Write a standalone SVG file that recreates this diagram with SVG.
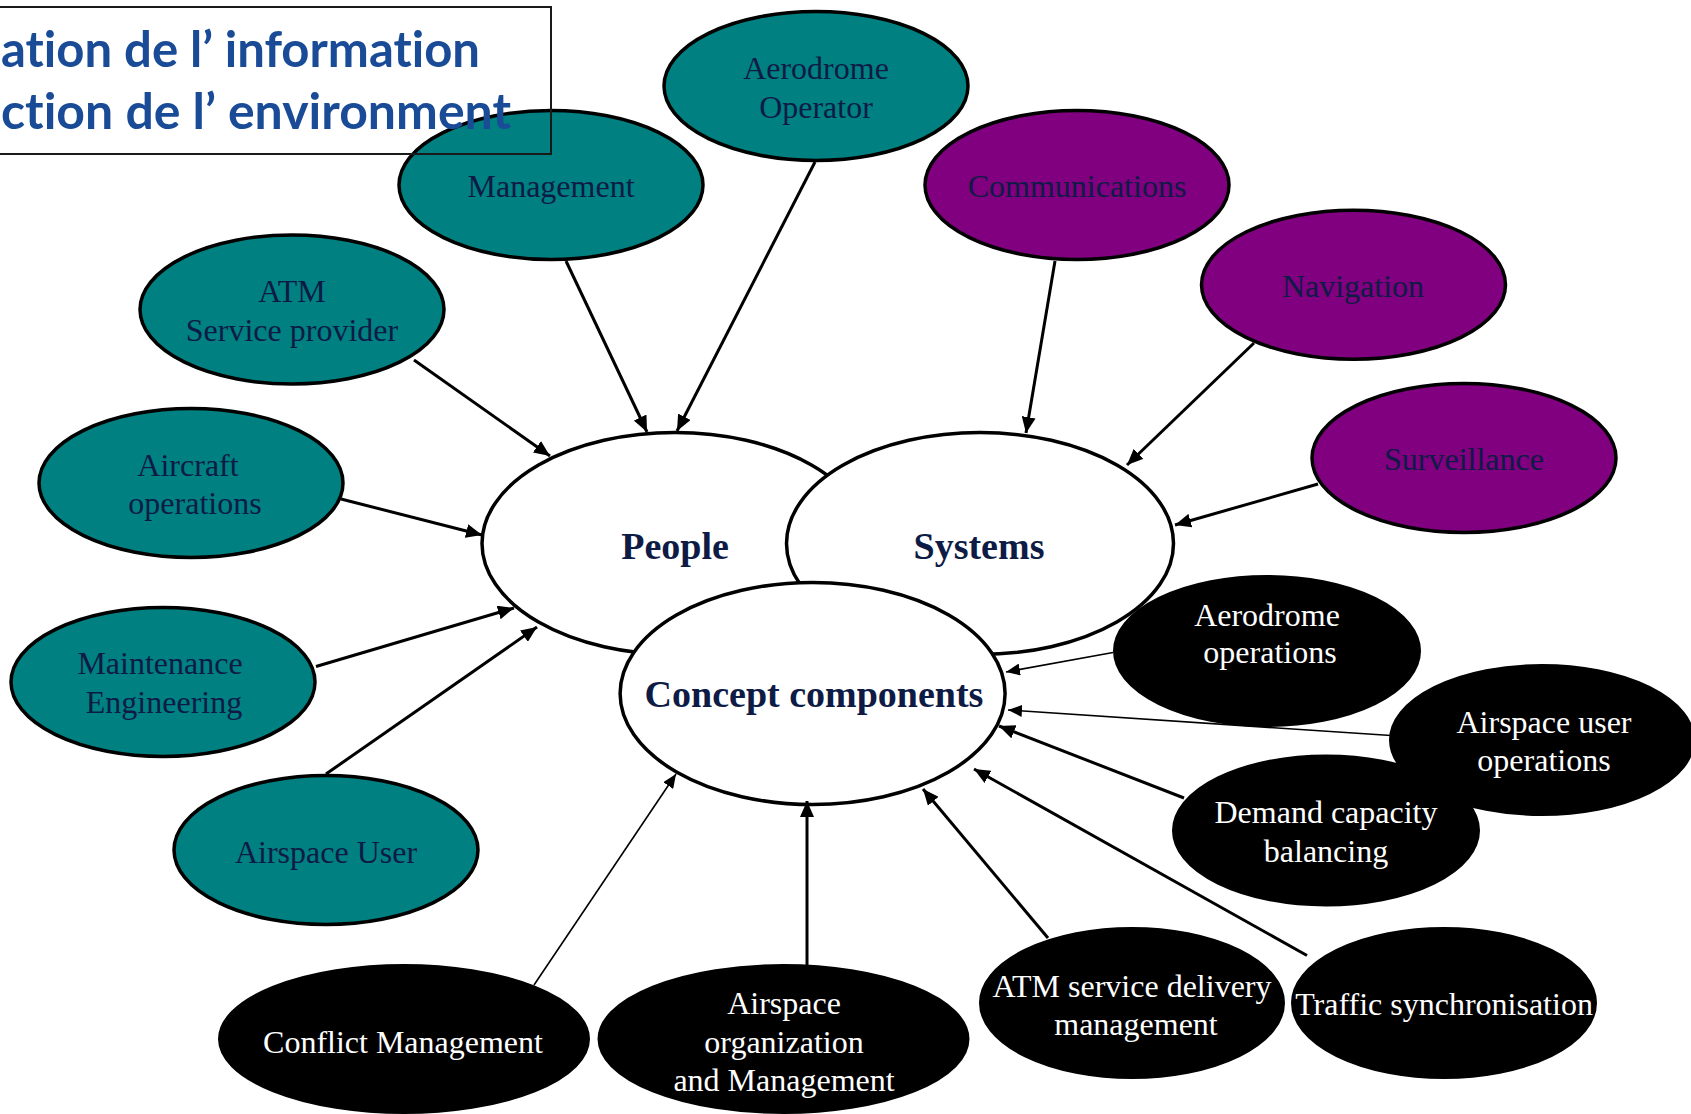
<svg xmlns="http://www.w3.org/2000/svg" width="1691" height="1114" viewBox="0 0 1691 1114">
<style>
.teal{fill:#008080;stroke:#000;stroke-width:3.5}
.purple{fill:#800080;stroke:#000;stroke-width:3.5}
.white{fill:#fff;stroke:#000;stroke-width:3.5}
.black{fill:#000;stroke:#000;stroke-width:2}
.lbl{font-family:"Liberation Serif","Times New Roman",serif;font-size:32px;text-anchor:middle}
.dk{fill:#0d1b45}
.wt{fill:#fff}
.ctr{font-family:"Liberation Serif","Times New Roman",serif;font-size:38px;font-weight:bold;text-anchor:middle;fill:#0d1b45}
.title{font-family:Lato,"Open Sans",sans-serif;font-weight:bold;font-size:50px;fill:#1a4b96;font-variant-ligatures:none}
.thick{stroke:#000;stroke-width:3;fill:none;marker-end:url(#ah)}
.thin{stroke:#000;stroke-width:1.6;fill:none;marker-end:url(#ahs)}
</style>
<defs>
<marker id="ah" viewBox="0 0 16 14" refX="16" refY="7" markerWidth="16" markerHeight="14" markerUnits="userSpaceOnUse" orient="auto"><path d="M0,0 L16,7 L0,14 z" fill="#000"/></marker>
<marker id="ahs" viewBox="0 0 14 12" refX="14" refY="6" markerWidth="14" markerHeight="12" markerUnits="userSpaceOnUse" orient="auto"><path d="M0,0 L14,6 L0,12 z" fill="#000"/></marker>
</defs>
<rect width="1691" height="1114" fill="#fff"/>

<g id="node-people"><ellipse class="white" cx="675" cy="543.5" rx="193" ry="111"/><text class="ctr" x="675" y="559">People</text></g>
<g id="node-systems"><ellipse class="white" cx="980" cy="543.5" rx="193.5" ry="111"/><text class="ctr" x="979" y="559">Systems</text></g>
<g id="node-concept"><ellipse class="white" cx="812.6" cy="693.5" rx="192.5" ry="111"/><text class="ctr" x="814" y="707">Concept components</text></g>

<g id="node-aerodrome-operator"><ellipse class="teal" cx="816" cy="86" rx="152" ry="74.5"/><text class="lbl dk" x="816" y="79">Aerodrome</text><text class="lbl dk" x="816" y="118">Operator</text></g>
<g id="node-management"><ellipse class="teal" cx="551" cy="185" rx="152" ry="74.5"/><text class="lbl dk" x="551" y="197">Management</text></g>
<g id="node-atm-provider"><ellipse class="teal" cx="292" cy="309.5" rx="152" ry="74.5"/><text class="lbl dk" x="292" y="302">ATM</text><text class="lbl dk" x="292" y="341">Service provider</text></g>
<g id="node-aircraft-ops"><ellipse class="teal" cx="191" cy="483" rx="152" ry="74.5"/><text class="lbl dk" x="188" y="476">Aircraft</text><text class="lbl dk" x="195" y="514">operations</text></g>
<g id="node-maintenance"><ellipse class="teal" cx="163" cy="682" rx="152" ry="74.5"/><text class="lbl dk" x="160" y="674">Maintenance</text><text class="lbl dk" x="164" y="713">Engineering</text></g>
<g id="node-airspace-user"><ellipse class="teal" cx="326" cy="850" rx="152" ry="74.5"/><text class="lbl dk" x="326" y="863">Airspace User</text></g>

<g id="node-communications"><ellipse class="purple" cx="1077" cy="185" rx="152" ry="74.5"/><text class="lbl dk" x="1077" y="197">Communications</text></g>
<g id="node-navigation"><ellipse class="purple" cx="1353.5" cy="284.7" rx="152" ry="74.5"/><text class="lbl dk" x="1353" y="297">Navigation</text></g>
<g id="node-surveillance"><ellipse class="purple" cx="1464" cy="458" rx="152" ry="74.5"/><text class="lbl dk" x="1464" y="470">Surveillance</text></g>

<g id="node-aerodrome-ops"><ellipse class="black" cx="1267" cy="651" rx="153" ry="75"/><text class="lbl wt" x="1267" y="625.5">Aerodrome</text><text class="lbl wt" x="1270" y="663">operations</text></g>
<g id="node-airspace-user-ops"><ellipse class="black" cx="1542" cy="740" rx="152" ry="75"/><text class="lbl wt" x="1544" y="733">Airspace user</text><text class="lbl wt" x="1544" y="771">operations</text></g>
<g id="node-demand-capacity"><ellipse class="black" cx="1326" cy="830.5" rx="153" ry="75"/><text class="lbl wt" x="1326" y="823">Demand capacity</text><text class="lbl wt" x="1326" y="862">balancing</text></g>
<g id="node-atm-service-delivery"><ellipse class="black" cx="1132" cy="1003" rx="152" ry="75"/><text class="lbl wt" x="1132" y="996.5">ATM service delivery</text><text class="lbl wt" x="1136" y="1035">management</text></g>
<g id="node-traffic-sync"><ellipse class="black" cx="1444" cy="1003" rx="152" ry="75"/><text class="lbl wt" x="1444" y="1015">Traffic synchronisation</text></g>
<g id="node-conflict-mgmt"><ellipse class="black" cx="404" cy="1039" rx="185" ry="74"/><text class="lbl wt" x="403" y="1052.6">Conflict Management</text></g>
<g id="node-airspace-org"><ellipse class="black" cx="783.5" cy="1039" rx="185" ry="74"/><text class="lbl wt" x="784" y="1014">Airspace</text><text class="lbl wt" x="784" y="1052.6">organization</text><text class="lbl wt" x="784" y="1091">and Management</text></g>

<g id="connectors">
<line class="thick" x1="566" y1="261" x2="647" y2="432"/>
<line class="thick" x1="815" y1="162" x2="677" y2="431"/>
<line class="thick" x1="414" y1="360" x2="550" y2="456"/>
<line class="thick" x1="341" y1="499" x2="482" y2="535"/>
<line class="thick" x1="316" y1="666.5" x2="514" y2="608"/>
<line class="thick" x1="326" y1="774" x2="537" y2="627"/>
<line class="thick" x1="1055" y1="261" x2="1026" y2="433"/>
<line class="thick" x1="1254" y1="343" x2="1127" y2="465"/>
<line class="thick" x1="1318" y1="484" x2="1175" y2="525"/>
<line class="thin" x1="1113" y1="652.5" x2="1006" y2="672"/>
<line class="thin" x1="1391" y1="735.5" x2="1008" y2="710"/>
<line class="thick" x1="1184" y1="798" x2="999" y2="726"/>
<line class="thick" x1="1307" y1="955.5" x2="974" y2="769"/>
<line class="thick" x1="1048" y1="938" x2="923" y2="789"/>
<line class="thick" x1="807" y1="965" x2="807" y2="801"/>
<line class="thin" x1="534" y1="985" x2="676" y2="774"/>
</g>

<g id="title">
<rect x="-5" y="7" width="556" height="147" fill="none" stroke="#1a1a1a" stroke-width="2"/>
<text class="title" x="1" y="67" textLength="479" lengthAdjust="spacingAndGlyphs">ation de l’ information</text>
<text class="title" x="1" y="129" textLength="510" lengthAdjust="spacingAndGlyphs">ction de l’ environment</text>
</g>
</svg>
